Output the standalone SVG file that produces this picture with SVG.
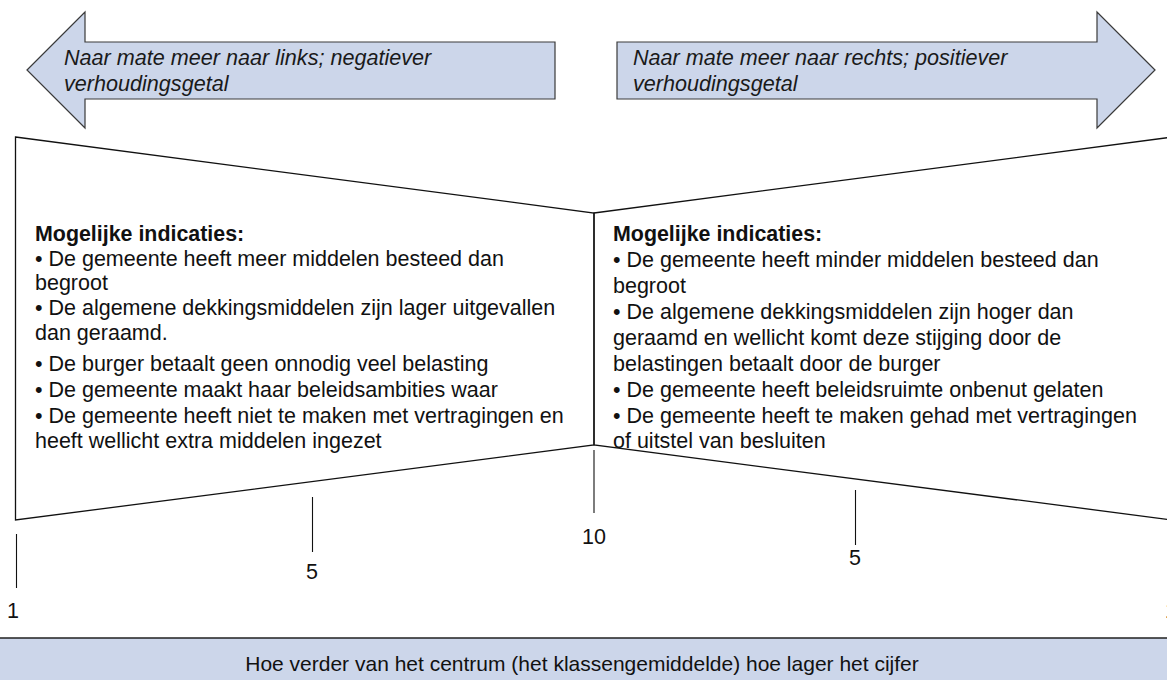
<svg xmlns="http://www.w3.org/2000/svg" width="1167" height="680" viewBox="0 0 1167 680">
<style>
.arrow{fill:#CCD6EA;stroke:#3a3a3a;stroke-width:1.2}
.bar{fill:#CCD6EA;stroke:#222;stroke-width:1.5}
.shape{fill:#fff;stroke:#111;stroke-width:1.3}
.tick{stroke:#111;stroke-width:1.1;fill:none}
.t{font-family:"Liberation Sans",Arial,sans-serif;font-size:21.5px;fill:#111}
.b{font-weight:bold;font-size:21.4px}
.i{font-style:italic;fill:#1a1a1a;font-size:21.6px}
.m{text-anchor:middle}
.s{font-size:21px}
</style>
<rect width="1167" height="680" fill="#fff"/>
<g id="arrow-left">
<polygon class="arrow" points="27,70 85,12 85,42 555,42 555,99 85,99 85,128"/>
<text class="t i"><tspan x="64" y="65">Naar mate meer naar links; negatiever</tspan><tspan x="64" y="91">verhoudingsgetal</tspan></text>
</g>
<g id="arrow-right">
<polygon class="arrow" points="1155,70 1097,12 1097,42 617,42 617,99 1097,99 1097,128"/>
<text class="t i"><tspan x="633" y="65">Naar mate meer naar rechts; positiever</tspan><tspan x="633" y="91">verhoudingsgetal</tspan></text>
</g>
<g id="panel-left">
<polygon class="shape" points="15.5,137 594,213 594,445 15.5,520"/>
<text class="t"><tspan class="b" x="35" y="241">Mogelijke indicaties:</tspan><tspan x="35" y="266">• De gemeente heeft meer middelen besteed dan</tspan><tspan x="35" y="290">begroot</tspan><tspan x="35" y="315">• De algemene dekkingsmiddelen zijn lager uitgevallen</tspan><tspan x="35" y="340">dan geraamd.</tspan><tspan x="35" y="371">• De burger betaalt geen onnodig veel belasting</tspan><tspan x="35" y="397">• De gemeente maakt haar beleidsambities waar</tspan><tspan x="35" y="423">• De gemeente heeft niet te maken met vertragingen en</tspan><tspan x="35" y="448">heeft wellicht extra middelen ingezet</tspan></text>
</g>
<g id="panel-right">
<polygon class="shape" points="594,213 1172.5,137 1172.5,520 594,445" fill-opacity="0"/>
<text class="t"><tspan class="b" x="613" y="241">Mogelijke indicaties:</tspan><tspan x="613" y="267">• De gemeente heeft minder middelen besteed dan</tspan><tspan x="613" y="293">begroot</tspan><tspan x="613" y="319">• De algemene dekkingsmiddelen zijn hoger dan</tspan><tspan x="613" y="345">geraamd en wellicht komt deze stijging door de</tspan><tspan x="613" y="371">belastingen betaalt door de burger</tspan><tspan x="613" y="397">• De gemeente heeft beleidsruimte onbenut gelaten</tspan><tspan x="613" y="423">• De gemeente heeft te maken gehad met vertragingen</tspan><tspan x="613" y="448">of uitstel van besluiten</tspan></text>
</g>
<g id="connectors">
<line class="tick" x1="16.5" y1="534" x2="16.5" y2="588"/>
<line class="tick" x1="312.5" y1="497" x2="312.5" y2="552"/>
<line class="tick" x1="594" y1="450" x2="594" y2="513"/>
<line class="tick" x1="855.5" y1="490" x2="855.5" y2="545"/>
<line class="tick" x1="1172" y1="534" x2="1172" y2="588"/>
</g>
<g id="scale-labels">
<text class="t m" x="13" y="618">1</text>
<text class="t m" x="312" y="579">5</text>
<text class="t m" x="594" y="544">10</text>
<text class="t m" x="855" y="565">5</text>
<text class="t m" x="1171" y="618">1</text>
</g>
<g id="bottom-bar">
<rect class="bar" x="-2" y="638" width="1171" height="46"/>
<text class="t m s" x="582" y="671">Hoe verder van het centrum (het klassengemiddelde) hoe lager het cijfer</text>
</g>
</svg>
